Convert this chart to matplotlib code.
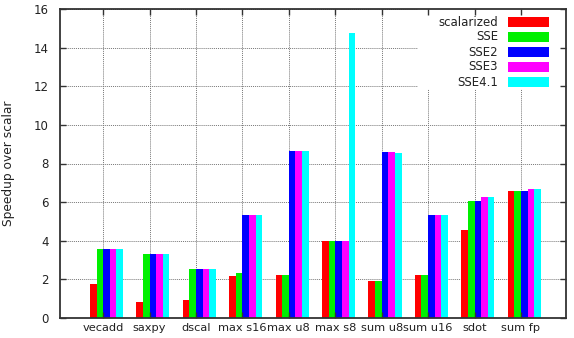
import matplotlib
matplotlib.use("Agg")
import matplotlib.pyplot as plt
from matplotlib.patches import Rectangle
import numpy as np

categories = ["vecadd", "saxpy", "dscal", "max_s16", "max_u8", "max_s8",
              "sum_u8", "sum_u16", "sdot", "sum_fp"]
tick_labels = ["vecadd", "saxpy", "dscal", "max s16", "max u8", "max s8",
               "sum u8", "sum u16", "sdot", "sum fp"]
series_names = ["scalarized", "SSE", "SSE2", "SSE3", "SSE4.1"]
scalarized = [1.75, 0.83, 0.95, 2.16, 2.24, 3.97, 1.93, 2.24, 4.57, 6.56]
sse        = [3.56, 3.33, 2.54, 2.33, 2.24, 3.97, 1.93, 2.24, 6.04, 6.56]
sse2       = [3.56, 3.33, 2.54, 5.35, 8.67, 3.97, 8.58, 5.35, 6.04, 6.60]
sse3       = [3.56, 3.33, 2.54, 5.35, 8.67, 3.97, 8.58, 5.35, 6.27, 6.66]
sse41      = [3.56, 3.33, 2.54, 5.35, 8.67, 14.75, 8.55, 5.35, 6.27, 6.66]
colors = ["#ff0000", "#00f000", "#0000ff", "#ff00ff", "#00ffff"]

FS = 8.5
W, H = 574, 338
rect = [60/W, 20/H, 506/W, 309/H]
fig = plt.figure(figsize=(W/100, H/100), dpi=100)
ax = fig.add_axes(rect)

x = np.arange(len(categories))
w = 1/7
all_series = [scalarized, sse, sse2, sse3, sse41]
for k, (vals, name, c) in enumerate(zip(all_series, series_names, colors)):
    ax.bar(x + (k - 2) * w, vals, width=w, align="edge", color=c,
           label=name, linewidth=0, zorder=3)

xlim = (-0.93, 9.97)
ylim = (0, 16)
yt = np.arange(0, 17, 2)
ax.set_xlim(*xlim)
ax.set_ylim(*ylim)
ax.set_yticks(yt)
ax.set_xticks(x)
ax.set_xticklabels(tick_labels, fontsize=8.2, color="#222222")
ax.tick_params(axis="y", labelsize=FS, labelcolor="#222222", pad=8)
ax.tick_params(axis="x", pad=3.5)
ax.tick_params(length=0)
ax.grid(True, linestyle=(0, (1, 1)), color="#777777", linewidth=0.7)
for s in ax.spines.values():
    s.set_visible(False)

# white key background hiding the grid (gnuplot style)
ax.add_patch(Rectangle((418/W, 1 - 89/H), (566 - 418)/W, (89 - 9)/H,
                       transform=fig.transFigure, facecolor="white",
                       edgecolor="none", zorder=2))

# overlay axes: frame and inward ticks on all four sides
ax2 = fig.add_axes(rect, zorder=2)
ax2.patch.set_visible(False)
ax2.set_xlim(*xlim)
ax2.set_ylim(*ylim)
ax2.set_xticks(x)
ax2.set_yticks(yt)
ax2.tick_params(direction="in", top=True, right=True, length=4, width=1,
                color="#333333", labelbottom=False, labelleft=False)
for s in ax2.spines.values():
    s.set_linewidth(1.3)
    s.set_color("#333333")

fig.text(9/W, 1 - 163.5/H, "Speedup over scalar", rotation=90, ha="center",
         va="center", fontsize=FS + 0.3, color="#222222")

row_y = [22, 37, 52, 67, 82]
for name, c, yy in zip(series_names, colors, row_y):
    fig.text(498/W, 1 - yy/H, name, ha="right", va="center", fontsize=FS,
             color="#222222")
    fig.patches.append(Rectangle((508/W, 1 - (yy + 4.5)/H), 41/W, 9/H,
                                 transform=fig.transFigure, facecolor=c,
                                 edgecolor="none", zorder=6))

fig.savefig("out.png", dpi=100)
